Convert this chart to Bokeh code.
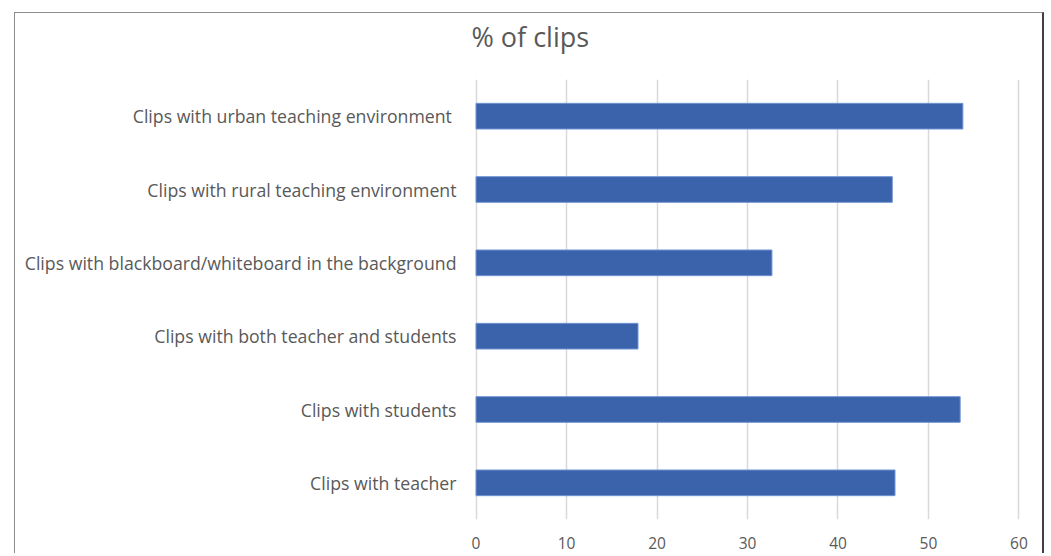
from bokeh.plotting import figure
from bokeh.models import Range1d, FixedTicker, LinearAxis
from bokeh.embed import file_html
from bokeh.resources import INLINE

categories = [
    "Clips with teacher",
    "Clips with students",
    "Clips with both teacher and students",
    "Clips with blackboard/whiteboard in the background",
    "Clips with rural teaching environment",
    "Clips with urban teaching environment ",
]
values = [46.3, 53.5, 17.9, 32.7, 46.0, 53.8]
x_ticks = [0, 10, 20, 30, 40, 50, 60]
title_text = "% of clips"

FONT = "Open Sans"
GRAY = "#595959"

p = figure(
    y_range=categories,
    x_range=Range1d(-0.5, 60.5),
    width=1030, height=541,
    output_backend="svg", toolbar_location=None,
    min_border_left=456, min_border_right=22,
    min_border_top=66, min_border_bottom=35,
)
p.styles = {"margin-left": "14px", "margin-top": "12px",
            "border-left": "1.5px solid #8c8c8c",
            "border-top": "1.5px solid #8c8c8c",
            "border-right": "2px solid #404040"}

p.hbar(y=categories, right=values, left=0, height=0.35,
       fill_color="#3a63ab", line_color="#6f93d3", line_width=1)

bottom_axis = p.below[0]
bottom_axis.ticker = FixedTicker(ticks=x_ticks)
bottom_axis.axis_line_color = None
bottom_axis.major_tick_line_color = None
bottom_axis.minor_tick_line_color = None
bottom_axis.major_label_text_font = FONT
bottom_axis.major_label_text_font_size = "15.5px"
bottom_axis.major_label_text_color = GRAY
bottom_axis.major_label_standoff = 11

# chart title, drawn as the single label of an axis above the frame
title_axis = LinearAxis(ticker=FixedTicker(ticks=[6]),
                        major_label_overrides={6: title_text})
title_axis.axis_line_color = None
title_axis.major_tick_line_color = None
title_axis.minor_tick_line_color = None
title_axis.major_label_text_font = FONT
title_axis.major_label_text_font_size = "27px"
title_axis.major_label_text_color = GRAY
title_axis.major_label_standoff = 19
p.add_layout(title_axis, "above")

p.outline_line_color = None
p.ygrid.grid_line_color = None
p.xgrid.grid_line_color = "#d9d9d9"
p.xgrid.grid_line_width = 1.5

p.yaxis.axis_line_color = None
p.yaxis.major_tick_line_color = None
p.yaxis.minor_tick_line_color = None
p.yaxis.major_label_text_font = FONT
p.yaxis.major_label_text_font_size = "17.7px"
p.yaxis.major_label_text_color = GRAY
p.yaxis.major_label_standoff = 9

open("out.html", "w").write(file_html(p, INLINE))
